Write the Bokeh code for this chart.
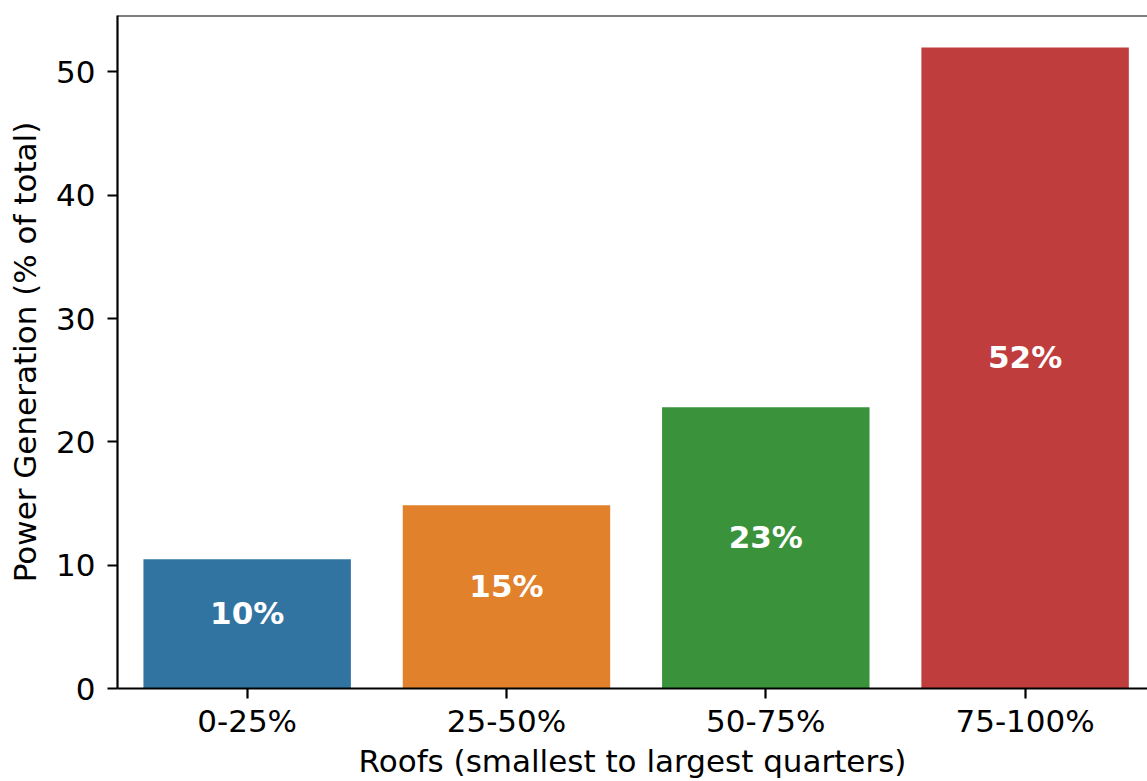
from bokeh.plotting import figure
from bokeh.models import FixedTicker, Range1d, Span, ColumnDataSource
from bokeh.embed import file_html
from bokeh.resources import INLINE
from bokeh.core.properties import value

categories = ["0-25%", "25-50%", "50-75%", "75-100%"]
shares = [10.49, 14.86, 22.80, 51.98]
labels = ["10%", "15%", "23%", "52%"]
colors = ["#3274a1", "#e1812c", "#3a923a", "#c03d3e"]
y_ticks = [0, 10, 20, 30, 40, 50]

FONT = "DejaVu Sans"
FS = "31px"

idx = list(range(len(categories)))
y_top = max(shares) * 1.05

src = ColumnDataSource(dict(x=idx, top=shares, mid=[v / 2 for v in shares],
                            lab=labels, color=colors))

p = figure(width=1147, height=781, output_backend="svg", toolbar_location=None,
           x_range=Range1d(-0.5, 3.472), y_range=Range1d(0, y_top),
           min_border_left=117, min_border_right=0, min_border_top=15,
           min_border_bottom=93)
p.outline_line_color = None
p.grid.visible = False

p.vbar(x="x", top="top", width=0.8, source=src, fill_color="color", line_color=None)
p.text(x="x", y="mid", text="lab", source=src, text_align="center",
       text_baseline="middle", y_offset=-11, text_color="white",
       text_font=value(FONT), text_font_size=FS, text_font_style="bold")

p.add_layout(Span(location=y_top, dimension="width", line_color="black", line_width=2.2))

p.xaxis.ticker = FixedTicker(ticks=idx)
p.xaxis.major_label_overrides = {i: c for i, c in zip(idx, categories)}
p.yaxis.ticker = FixedTicker(ticks=y_ticks)
p.xaxis.axis_label = "Roofs (smallest to largest quarters)"
p.yaxis.axis_label = "Power Generation (% of total)"

for ax in (p.xaxis, p.yaxis):
    ax.axis_line_color = "black"
    ax.axis_line_width = 2.2
    ax.major_tick_line_color = "black"
    ax.major_tick_line_width = 2.2
    ax.major_tick_in = 0
    ax.major_tick_out = 10
    ax.minor_tick_line_color = None
    ax.major_label_text_font = FONT
    ax.major_label_text_font_size = FS
    ax.major_label_text_color = "black"
    ax.axis_label_text_font = FONT
    ax.axis_label_text_font_size = FS
    ax.axis_label_text_font_style = "normal"
    ax.axis_label_text_color = "black"

p.xaxis.major_label_standoff = 4
p.xaxis.axis_label_standoff = 1
p.yaxis.major_label_standoff = 12
p.yaxis.axis_label_standoff = 10

open("out.html", "w").write(file_html(p, INLINE))
